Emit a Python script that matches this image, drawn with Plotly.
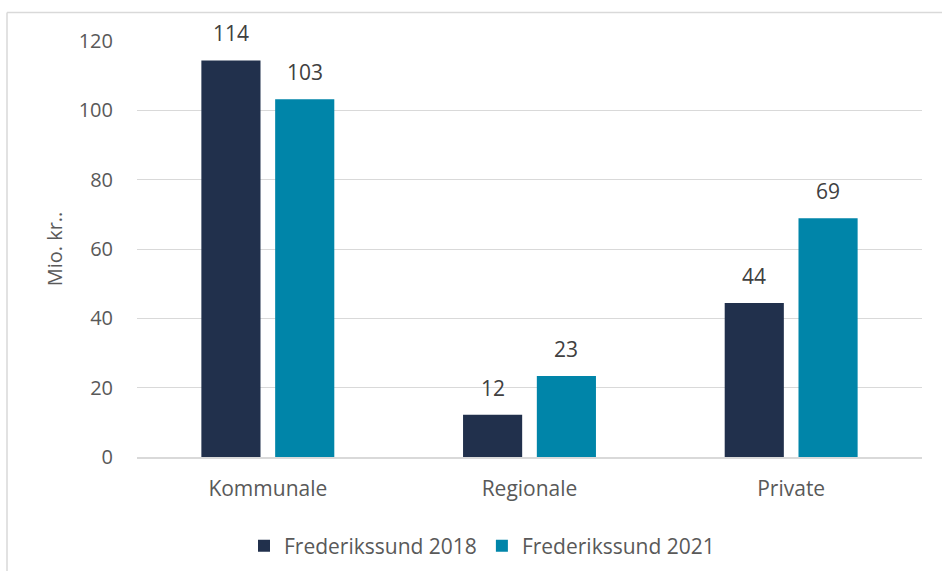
import plotly.graph_objects as go

categories = ["Kommunale", "Regionale", "Private"]
series_names = ["Frederikssund 2018", "Frederikssund 2021"]
values_2018 = [114.4, 12.2, 44.4]
values_2021 = [103.2, 23.4, 68.9]
colors = ["#21304C", "#0085A9"]
y_ticks = [0, 20, 40, 60, 80, 100, 120]

W, H = 942, 571
ml, mr, mt, mb = 137, 20, 41, 114
pw, ph = W - ml - mr, H - mt - mb
cat_px = pw / len(categories)

def px_x(p):
    return (p - ml) / pw

def px_y(p):
    return (H - mb - p) / ph

font = "'Open Sans', sans-serif"
fig = go.Figure()
offsets = [-0.254, 0.028]
bar_w = 0.226
annotations = []
for name, vals, col, off in zip(series_names, [values_2018, values_2021], colors, offsets):
    fig.add_trace(go.Bar(
        x=categories, y=vals, name=name, marker_color=col, marker_line_width=0,
        width=bar_w, offset=off, hoverinfo="skip",
    ))
    for c, v in zip(categories, vals):
        annotations.append(dict(
            x=c, y=v, xref="x", yref="y", text=f"{v:.0f}", showarrow=False,
            xanchor="center", yanchor="bottom", xshift=(off + bar_w / 2) * cat_px, yshift=11,
            font=dict(size=21, color="#404040", family=font),
        ))

fig.update_layout(
    width=W, height=H, barmode="overlay",
    margin=dict(l=ml, r=mr, t=mt, b=mb, autoexpand=False),
    paper_bgcolor="white", plot_bgcolor="white",
    font=dict(family=font, color="#595959", size=20),
    showlegend=True,
    legend=dict(orientation="h", x=px_x(482), y=px_y(546), xanchor="center", yanchor="middle",
                font=dict(size=21, color="#595959"), itemwidth=30, traceorder="normal"),
    annotations=annotations,
    shapes=[
        dict(type="line", xref="paper", yref="paper", x0=px_x(7), x1=px_x(945), y0=px_y(12.5), y1=px_y(12.5),
             line=dict(color="#D9D9D9", width=1.5)),
        dict(type="line", xref="paper", yref="paper", x0=px_x(7), x1=px_x(7), y0=px_y(12.5), y1=px_y(575),
             line=dict(color="#D9D9D9", width=1.5)),
    ],
)
fig.update_xaxes(showgrid=False, showline=True, linecolor="#D9D9D9", linewidth=2, automargin=False,
                 ticks="", tickfont=dict(size=21, color="#595959"), ticklabelstandoff=12)
fig.update_yaxes(range=[0, 120], tickvals=y_ticks, showgrid=True, gridcolor="#D9D9D9", gridwidth=1,
                 zeroline=False, showline=False, ticks="", ticklabelstandoff=23, automargin=False,
                 tickfont=dict(size=20, color="#595959"),
                 title=dict(text="Mio. kr..", font=dict(size=20, color="#595959"), standoff=10))

fig.write_html("out.html", config={"displayModeBar": False},
               post_script="document.body.style.margin='0';document.body.style.overflow='hidden';")
